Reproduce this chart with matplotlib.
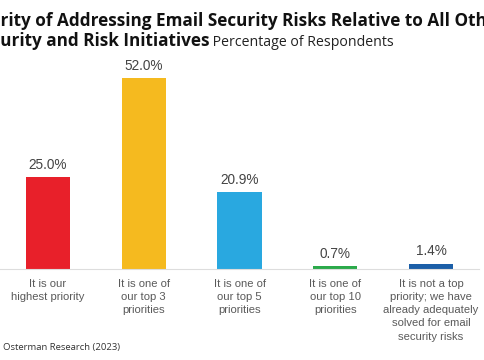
import matplotlib
matplotlib.use("Agg")
import matplotlib.pyplot as plt

categories = ["It is our\nhighest priority",
              "It is one of\nour top 3\npriorities",
              "It is one of\nour top 5\npriorities",
              "It is one of\nour top 10\npriorities",
              "It is not a top\npriority; we have\nalready adequately\nsolved for email\nsecurity risks"]
values = [25.0, 52.0, 20.9, 0.7, 1.4]
colors = ["#E8202A", "#F5BA1F", "#29A8E0", "#2BAA4A", "#1B5FA8"]
title_line1 = "Priority of Addressing Email Security Risks Relative to All Other"
title_line2 = "Security and Risk Initiatives"
subtitle = " Percentage of Respondents"
source = "Osterman Research (2023)"

W, H = 485, 360
TS = 12.3
fig = plt.figure(figsize=(W/100, H/100), dpi=100)
ax = fig.add_axes([0.0/W, (H-269)/H, 479/W, 220/H])
x = range(len(values))
ax.bar(x, values, width=0.46, color=colors, zorder=2)
ax.set_xlim(-0.5, len(values)-0.5)
ax.set_ylim(0, 60)
for xi, v in zip(x, values):
    ax.annotate(f"{v:.1f}%", (xi, v), xytext=(0, 4), textcoords="offset points",
                ha="center", va="bottom", fontsize=9.8, color="#444444",
                family="Liberation Sans")
for s in ["top", "right", "left"]:
    ax.spines[s].set_visible(False)
ax.spines["bottom"].set_color("#DDDDDD")
ax.spines["bottom"].set_linewidth(0.8)
ax.set_yticks([])
ax.set_xticks(list(x))
ax.set_xticklabels(categories, fontsize=8.1, color="#5a5a5a", family="Liberation Sans",
                   linespacing=1.4)
ax.tick_params(axis="x", length=0, pad=7)

fig.canvas.draw()
r = fig.canvas.get_renderer()
probe = fig.text(0, 0, "Prio", fontsize=TS, fontweight="bold", family="Open Sans")
w1 = probe.get_window_extent(r).width
probe.remove()
probe = fig.text(0, 0, "Sec", fontsize=TS, fontweight="bold", family="Open Sans")
w2 = probe.get_window_extent(r).width
probe.remove()
fig.text(-w1/W, (H-26)/H, title_line1, fontsize=TS, fontweight="bold",
         family="Open Sans", color="#111111", va="baseline")
t2 = fig.text(-w2/W, (H-46)/H, title_line2, fontsize=TS, fontweight="bold",
              family="Open Sans", color="#111111", va="baseline")
fig.canvas.draw()
bb = t2.get_window_extent(r)
fig.text(bb.x1/W, (H-46)/H, subtitle, fontsize=10.2, family="Open Sans",
         color="#222222", va="baseline")
fig.text(3/W, (H-350)/H, source, fontsize=6.8, family="Open Sans", color="#333333",
         va="baseline")
fig.savefig("out.png", dpi=100, facecolor="white")
